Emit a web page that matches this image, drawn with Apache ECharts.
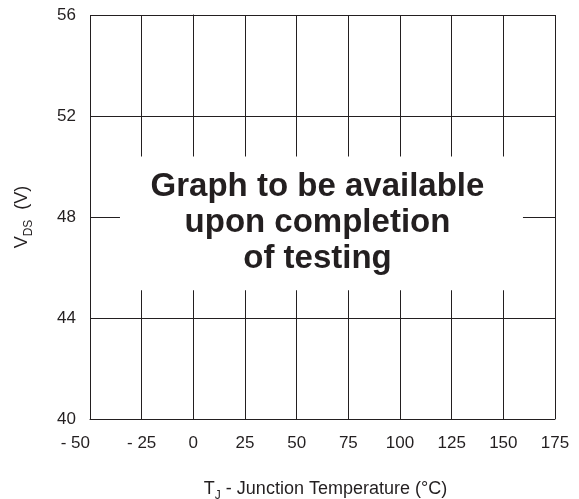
<!DOCTYPE html>
<html>
<head>
<meta charset="utf-8">
<script src="https://cdn.jsdelivr.net/npm/echarts@6/dist/echarts.min.js"></script>
<style>
  html, body { margin: 0; padding: 0; background: #fff; }
  #chart { width: 579px; height: 499px; }
</style>
</head>
<body>
<div id="chart"></div>
<script>
// axis ranges (°C and V)
var tempTicks = [-50, -25, 0, 25, 50, 75, 100, 125, 150, 175];
var vdsTicks = [40, 44, 48, 52, 56];
// placeholder box, in data units
var boxTemp = [-35.5, 159.5];
var boxVds = [45.1, 50.4];
var boxText = 'Graph to be available\nupon completion\nof testing';

var chart = echarts.init(document.getElementById('chart'));
var ink = '#231f20';

var nameRich = {
  a: { fontSize: 18, color: ink, verticalAlign: 'bottom', lineHeight: 20 },
  s: { fontSize: 12, color: ink, verticalAlign: 'bottom', lineHeight: 20, padding: [0, 0, -4, 0] }
};

chart.setOption({
  animation: false,
  textStyle: { fontFamily: 'Liberation Sans, Arial, sans-serif', color: ink },
  grid: { left: 90, right: 24, top: 15, bottom: 80, outerBoundsMode: 'none', containLabel: false },
  xAxis: {
    type: 'value',
    min: tempTicks[0],
    max: tempTicks[tempTicks.length - 1],
    interval: 25,
    name: '{a|T}{s|J}{a| - Junction Temperature (°C)}',
    nameLocation: 'middle',
    nameGap: 59,
    nameTextStyle: { padding: [0, 0, 0, 6], rich: nameRich },
    axisLine: { show: true, lineStyle: { color: ink, width: 1 } },
    axisTick: { show: false },
    splitLine: { show: true, lineStyle: { color: ink, width: 1 } },
    axisLabel: {
      fontSize: 17,
      color: ink,
      margin: 16,
      alignMinLabel: 'right',
      formatter: function (v) { return v < 0 ? '- ' + Math.abs(v) : String(v); }
    }
  },
  yAxis: {
    type: 'value',
    min: vdsTicks[0],
    max: vdsTicks[vdsTicks.length - 1],
    interval: 4,
    name: '{a|V}{s|DS}{a|  (V)}',
    nameLocation: 'middle',
    nameGap: 59,
    nameRotate: 90,
    nameTextStyle: { rich: nameRich },
    axisLine: { show: true, lineStyle: { color: ink, width: 1 } },
    axisTick: { show: false },
    splitLine: { show: true, lineStyle: { color: ink, width: 1 } },
    axisLabel: { fontSize: 17, color: ink, margin: 14 }
  },
  series: [
    {
      type: 'line',
      data: [],
      silent: true,
      markArea: {
        silent: true,
        itemStyle: { color: '#fff', opacity: 1 },
        label: {
          show: true,
          position: 'inside',
          offset: [-4, 0],
          formatter: boxText,
          fontSize: 33,
          fontWeight: 'bold',
          lineHeight: 36,
          color: ink,
          align: 'center'
        },
        data: [[
          { coord: [boxTemp[0], boxVds[1]] },
          { coord: [boxTemp[1], boxVds[0]] }
        ]]
      }
    }
  ]
});
</script>
</body>
</html>
